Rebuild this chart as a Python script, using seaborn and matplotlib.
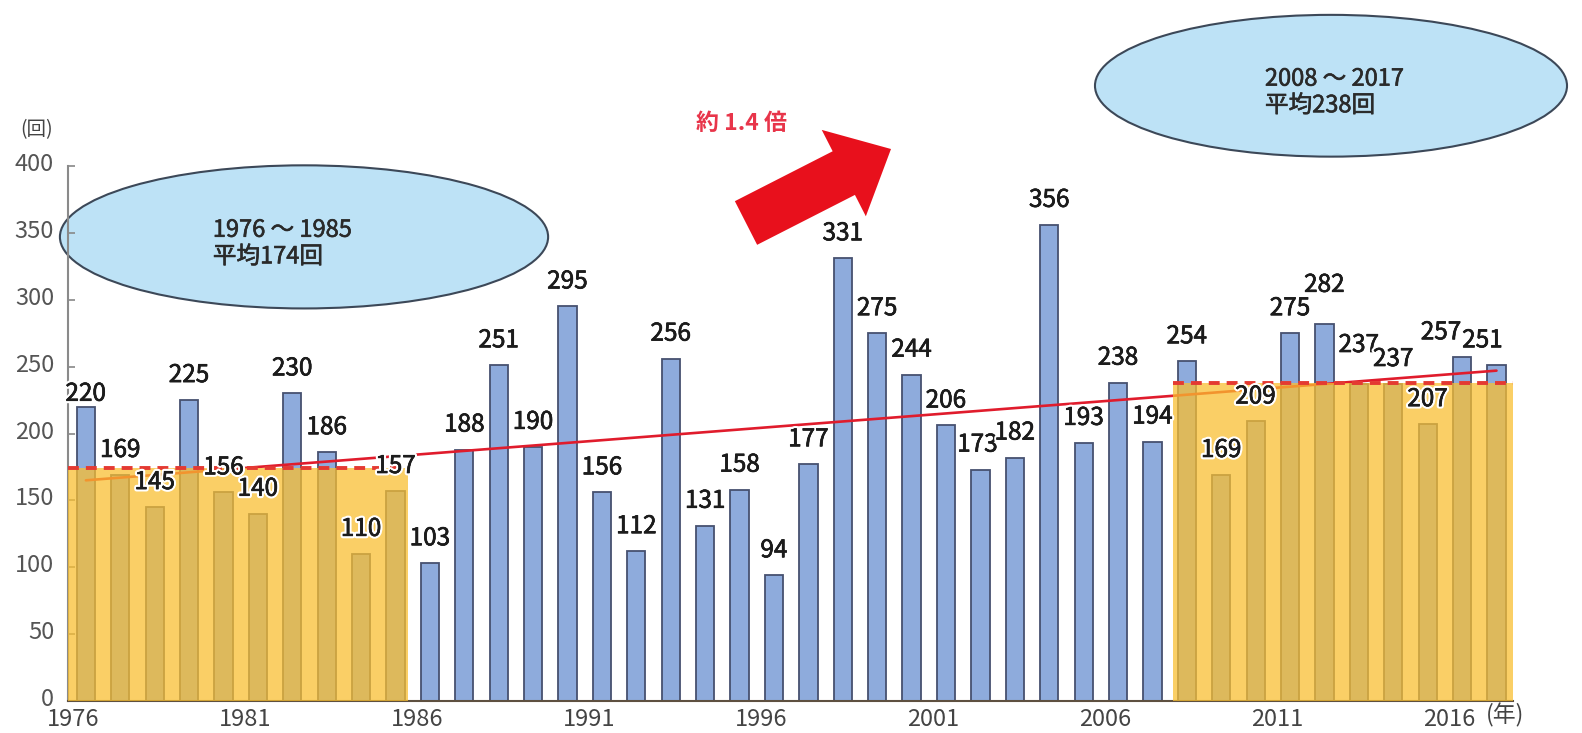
import numpy as np
import pandas as pd
import matplotlib
matplotlib.use("Agg")
import matplotlib.pyplot as plt
import matplotlib.patheffects as pe
import matplotlib.transforms as mtrans
from matplotlib.patches import Ellipse, Rectangle, FancyArrow
import seaborn as sns

# data
years = list(range(1976, 2018))
counts = [220, 169, 145, 225, 156, 140, 230, 186, 110, 157,
          103, 188, 251, 190, 295, 156, 112, 256, 131, 158,
          94, 177, 331, 275, 244, 206, 173, 182, 356, 193,
          238, 194, 254, 169, 209, 275, 282, 237, 237, 207,
          257, 251]
period_starts = [1976, 2008]
period_ends = [1985, 2017]
period_means = [174, 238]
period_texts = ["1976 ～ 1985\n平均174回", "2008 ～ 2017\n平均238回"]
trend_years = [1976, 2017]
trend_values = [165, 247]
tick_years = [1976, 1981, 1986, 1991, 1996, 2001, 2006, 2011, 2016]

df = pd.DataFrame({"year": years, "count": counts})

sns.set_style("ticks")
plt.rcParams["font.family"] = ["Noto Sans CJK JP", "DejaVu Sans"]

fig = plt.figure(figsize=(15.82, 7.33), dpi=100)
ax = fig.add_axes([68/1582, 32/733, 1445/1582, 535/733])

sns.barplot(data=df, x="year", y="count", native_scale=True, width=0.53,
            color="#8eabdc", saturation=1, edgecolor="#46516f", linewidth=1.3,
            errorbar=None, ax=ax, zorder=1)

# trend line (under the yellow so it turns orange there)
ax.plot(trend_years, trend_values, color="#e01c2c", lw=1.9, zorder=2)

# yellow period blocks + dashed mean lines
for s, e, m in zip(period_starts, period_ends, period_means):
    x0 = s - 0.52 if s == period_starts[0] else s - 0.4
    x1 = e + 0.36 if e == period_ends[0] else e + 0.48
    ax.add_patch(Rectangle((x0, 0), x1 - x0, m, facecolor="#f9bf30",
                           alpha=0.74, lw=0, zorder=3))
    ax.plot([x0, x1], [m, m], color="#e43a32", lw=2.8,
            dashes=(2.8, 1.8), zorder=4)

# bolder-looking text: white halo, then a thin dark stroke
def halo(col):
    return [pe.withStroke(linewidth=3.5, foreground="white"),
            pe.withStroke(linewidth=0.45, foreground=col)]

# value labels
nudge = {1976: (0, -12), 2002: (-3, 0), 2012: (0, 14), 2013: (0, 14),
         2016: (-21, 0), 2017: (-14, 0)}
for yr, v in zip(years, counts):
    dx, dy = nudge.get(yr, (0, 0))
    ax.annotate(str(v), (yr, v), xytext=(dx*0.72, (25+dy)*0.72),
                textcoords="offset points", ha="center", va="center",
                fontsize=17.5, color="#1c1c1c", zorder=6,
                path_effects=halo("#1c1c1c"))

# ellipses with period text
ell_pos = [(1982.34, 347, 14.19, 107), (2012.19, 460, 13.72, 106)]
txt_left = [1979.69, 2010.27]
for (cx, cy, w, h), tl, t in zip(ell_pos, txt_left, period_texts):
    ax.add_patch(Ellipse((cx, cy), w, h, facecolor="#bde2f6",
                         edgecolor="#3c4858", lw=1.5, clip_on=False, zorder=0.5))
    ax.text(tl, cy - 5, t, ha="left", va="center", fontsize=17,
            color="#2a2a2a", linespacing=1.2, clip_on=False,
            path_effects=[pe.withStroke(linewidth=0.45, foreground="#2a2a2a")])

ax.set_xlim(1975.48, 2017.48)
ax.set_ylim(0, 400)
ax.set_yticks(range(0, 401, 50))
ax.set_xticks([t - 0.37 for t in tick_years])
ax.set_xticklabels([str(t) for t in tick_years])
ax.set_xlabel("")
ax.set_ylabel("")
ax.tick_params(axis="x", length=0, pad=5, labelsize=17, labelcolor="#444444")
ax.tick_params(axis="y", direction="in", length=5, width=1.2, color="#888888",
               pad=10, labelsize=17, labelcolor="#555555")
shift = mtrans.ScaledTranslation(0, 4/100, fig.dpi_scale_trans)
for lab in ax.get_yticklabels():
    lab.set_transform(lab.get_transform() + shift)
sns.despine(ax=ax)
ax.spines["left"].set_color("#8a8a8a")
ax.spines["left"].set_linewidth(1.5)
ax.spines["bottom"].set_color("#5e5040")
ax.spines["bottom"].set_linewidth(1.5)

# overlay in pixel coords for arrow and unit labels
ov = fig.add_axes([0, 0, 1, 1])
ov.set_xlim(0, 1582)
ov.set_ylim(733, 0)
ov.axis("off")
ov.add_patch(FancyArrow(746, 223, 145, -74, width=49, head_width=97,
                        head_length=53, length_includes_head=True,
                        color="#e8101c", lw=0))
ov.text(741, 123, "約 1.4 倍", ha="center", va="center", fontsize=16.5,
        fontweight="bold", color="#e8354a")
ov.text(37, 130, "(回)", ha="center", va="center", fontsize=14, color="#444444")
ov.text(1505, 715, "(年)", ha="center", va="center", fontsize=16.5, color="#444444")

fig.savefig("out.png", dpi=100)
